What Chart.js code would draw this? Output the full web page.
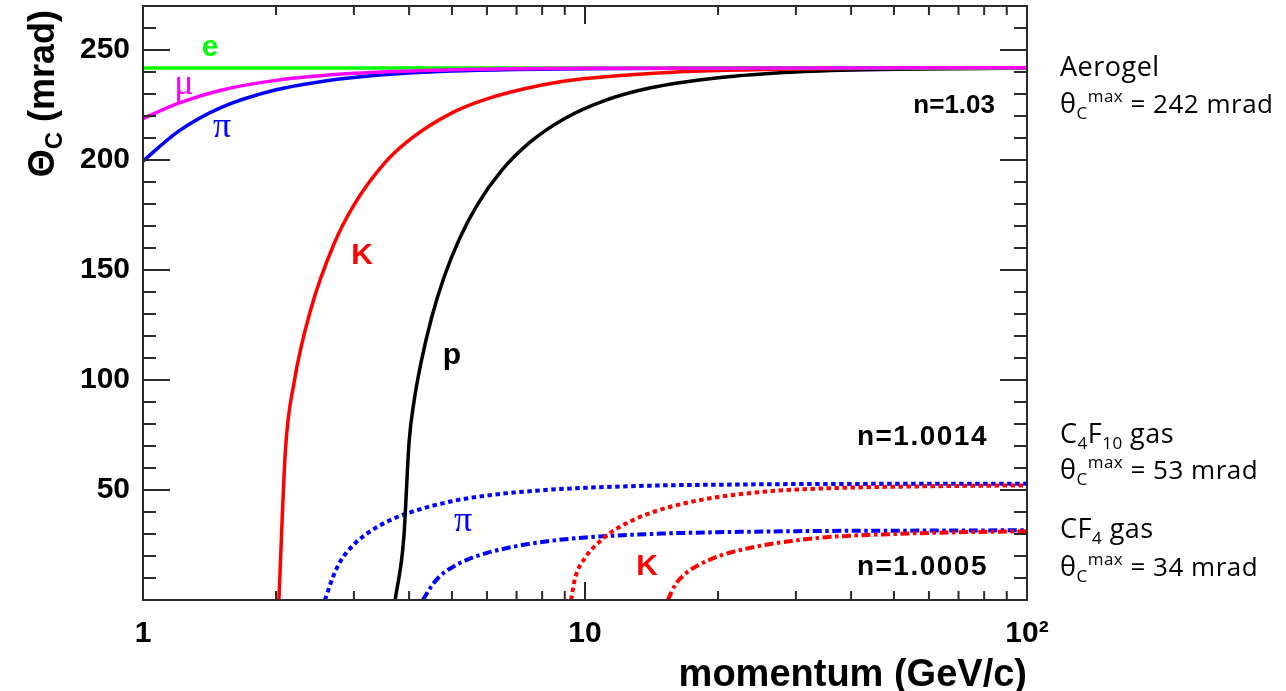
<!DOCTYPE html>
<html>
<head>
<meta charset="utf-8">
<script src="https://cdn.jsdelivr.net/npm/chart.js@4.4.0/dist/chart.umd.min.js"></script>
<style>
  html, body { margin: 0; padding: 0; background: #fff; }
</style>
</head>
<body>
<canvas id="chart" width="1286" height="691"></canvas>
<script>
// momentum p (GeV/c) and Cherenkov angle (mrad)
// aerogel, n = 1.03
const pE = [1, 100];
const thE = [241.8, 241.8];
const pMu = [1, 1.2, 1.5, 2, 3, 5, 10, 100];
const thMu = [218.8, 225.7, 231.7, 236.2, 239.4, 241.0, 241.7, 241.9];
const pPi = [1, 1.2, 1.5, 2, 2.5, 3, 4, 5, 7, 10, 20, 100];
const thPi = [199.5, 212.9, 223.8, 231.9, 235.5, 237.5, 239.5, 240.4, 241.1, 241.5, 241.8, 241.9];
const pK = [2.03, 2.1, 2.2, 2.4, 2.7, 3, 3.5, 4, 5, 6, 8, 10, 15, 20, 30, 50, 100];
const thK = [0, 68, 99.5, 132.5, 161.5, 179.5, 198, 209, 221.4, 227.8, 234.1, 237, 239.7, 240.7, 241.4, 241.7, 241.9];
const pP = [3.72, 3.89, 4.0, 4.1, 4.25, 4.5, 4.8, 5.2, 5.7, 6.5, 7.5, 9, 11, 14, 20, 30, 50, 100];
const thP = [0, 28, 72, 89.8, 107.3, 128.5, 146.8, 164.2, 179.5, 195.6, 208, 218.9, 226.8, 232.7, 237.4, 240, 241.2, 241.8];

// C4F10 gas, n = 1.0014 (dotted)
const pPiC4 = [2.58, 2.7, 2.8, 3, 3.3, 3.6, 4, 5, 6, 8, 10, 15, 20, 30, 50, 100];
const thPiC4 = [0, 11.3, 17.8, 25.2, 31.8, 36, 39.7, 44.9, 47.5, 49.9, 51, 52.1, 52.4, 52.7, 52.8, 52.9];
const pKC4 = [9.3, 9.5, 10, 11, 12, 14, 17, 20, 25, 30, 40, 60, 100];
const thKC4 = [0, 10, 19.1, 28, 33.3, 39.4, 44.2, 46.8, 49.1, 50.2, 51.1, 51.7, 52.1];

// CF4 gas, n = 1.0005 (dash-dot)
const pPiCF4 = [4.3, 4.5, 4.7, 5, 5.5, 6, 7, 8, 10, 15, 20, 30, 50, 100];
const thPiCF4 = [0, 6.5, 10.9, 14.8, 18.9, 21.4, 24.5, 26.4, 28.4, 30.2, 30.8, 31.3, 31.5, 31.7];
const pKCF4 = [15.4, 16, 17, 18, 20, 23, 27, 35, 50, 70, 100];
const thKCF4 = [0, 6.9, 12.5, 15.7, 19.8, 23.2, 25.8, 28.5, 30.0, 30.8, 31.2];

const xTicks = [1, 10, 100];
const xTickLabels = ["1", "10", "10²"];
const yTicks = [0, 50, 100, 150, 200, 250];

const DOT = [4.5, 3.5];
const DASHDOT = [9, 3.5, 3.5, 3.5];

function pts(p, th) {
  return p.map((v, i) => ({ x: v, y: th[i] }));
}

function curve(p, th, color, dash) {
  return {
    data: pts(p, th),
    borderColor: color,
    borderWidth: dash ? 4 : 3.5,
    borderDash: dash || [],
    borderCapStyle: "butt",
    showLine: true,
    pointRadius: 0,
    fill: false,
    cubicInterpolationMode: "monotone",
  };
}

// first in list is drawn on top
const datasets = [
  curve(pMu, thMu, "#ff00ff"),
  curve(pE, thE, "#00ff00"),
  curve(pPi, thPi, "#0000ff"),
  curve(pK, thK, "#ff0000"),
  curve(pP, thP, "#000000"),
  curve(pKC4, thKC4, "#ff0000", DOT),
  curve(pPiC4, thPiC4, "#0000ff", DOT),
  curve(pKCF4, thKCF4, "#ff0000", DASHDOT),
  curve(pPiCF4, thPiCF4, "#0000ff", DASHDOT),
];

// draws a text made of runs (for sub/superscripts), left to right
function runs(ctx, x, y, parts, family, weight) {
  for (const p of parts) {
    ctx.font = `${weight} ${p.s}px "${family}"`;
    ctx.fillText(p.t, x, y + (p.dy || 0));
    x += ctx.measureText(p.t).width;
  }
  return x;
}

function noPad(s) {
  s.paddingTop = 0;
  s.paddingBottom = 0;
  s.paddingLeft = 0;
  s.paddingRight = 0;
}

const decor = {
  id: "decor",
  afterDatasetsDraw(chart) {
    const { ctx, chartArea: a, scales: { x, y } } = chart;
    ctx.save();

    // frame + inside ticks, ROOT style
    ctx.strokeStyle = "#2a2a2a";
    ctx.lineWidth = 2;
    ctx.beginPath();
    for (let v = 10; v < 270; v += 10) {
      const py = y.getPixelForValue(v);
      const len = v % 50 === 0 ? 27 : 13;
      ctx.moveTo(a.left, py); ctx.lineTo(a.left + len, py);
      ctx.moveTo(a.right, py); ctx.lineTo(a.right - len, py);
    }
    for (const d of [1, 10]) {
      for (let k = 1; k <= 9; k++) {
        const v = d * k;
        if (v <= 1 || v >= 100) continue;
        const px = x.getPixelForValue(v);
        const len = k === 1 ? 18 : 9;
        ctx.moveTo(px, a.bottom); ctx.lineTo(px, a.bottom - len);
        ctx.moveTo(px, a.top); ctx.lineTo(px, a.top + len);
      }
    }
    ctx.stroke();
    ctx.strokeRect(a.left, a.top, a.right - a.left, a.bottom - a.top);

    // axis titles
    ctx.fillStyle = "#000";
    ctx.textBaseline = "alphabetic";
    ctx.textAlign = "right";
    ctx.font = 'bold 38px "Liberation Sans"';
    ctx.fillText("momentum (GeV/c)", a.right, 686);

    ctx.save();
    ctx.translate(54, 10);
    ctx.rotate(-Math.PI / 2);
    ctx.textAlign = "left";
    const yParts = [
      { t: "Θ", s: 36 },
      { t: "C", s: 24, dy: 8 },
      { t: " (mrad)", s: 36 },
    ];
    let w = 0;
    for (const p of yParts) {
      ctx.font = `bold ${p.s}px "Liberation Sans"`;
      w += ctx.measureText(p.t).width;
    }
    runs(ctx, -w, 0, yParts, "Liberation Sans", "bold");
    ctx.restore();

    // curve labels
    ctx.textAlign = "center";
    ctx.textBaseline = "middle";
    const lab = (t, px, py, color, font) => {
      ctx.fillStyle = color;
      ctx.font = font;
      ctx.fillText(t, px, py);
    };
    const B = 'bold 30px "Liberation Sans"';
    const G = '36px "Liberation Serif"';
    lab("e", 210, 48, "#00ff00", B);
    lab("μ", 184, 85, "#ff00ff", G);
    lab("π", 222, 128, "#0000ff", G);
    lab("K", 362, 256, "#ff0000", B);
    lab("p", 452, 356, "#000000", B);
    lab("π", 463, 522, "#0000ff", G);
    lab("K", 647, 567, "#ff0000", B);

    // refractive index labels
    ctx.fillStyle = "#000";
    ctx.textAlign = "right";
    ctx.textBaseline = "alphabetic";
    ctx.font = 'bold 26px "Liberation Sans"';
    ctx.fillText("n=1.03", 995, 113);
    ctx.font = 'bold 28px "Liberation Sans"';
    ctx.letterSpacing = "1.5px";
    ctx.fillText("n=1.0014", 988, 445);
    ctx.fillText("n=1.0005", 988, 575);
    ctx.letterSpacing = "0px";

    // radiator notes on the right
    ctx.textAlign = "left";
    ctx.letterSpacing = "0.5px";
    const F = "Open Sans";
    const S = 27, s = 17;
    const theta = (val) => [
      { t: "θ", s: S },
      { t: "C", s: s, dy: 6 },
      { t: "max", s: s, dy: -11 },
      { t: " = " + val + " mrad", s: S - 1 },
    ];
    runs(ctx, 1060, 76, [{ t: "Aerogel", s: S }], F, "normal");
    runs(ctx, 1060, 113, theta(242), F, "normal");
    runs(ctx, 1060, 443, [
      { t: "C", s: S }, { t: "4", s: s, dy: 6 },
      { t: "F", s: S }, { t: "10", s: s, dy: 6 },
      { t: " gas", s: S },
    ], F, "normal");
    runs(ctx, 1060, 479, theta(53), F, "normal");
    runs(ctx, 1060, 538, [
      { t: "CF", s: S }, { t: "4", s: s, dy: 6 },
      { t: " gas", s: S },
    ], F, "normal");
    runs(ctx, 1060, 576, theta(34), F, "normal");
    ctx.letterSpacing = "0px";

    ctx.restore();
  },
};

const tickFont = { family: "Liberation Sans", weight: "bold", size: 30 };

new Chart(document.getElementById("chart"), {
  type: "scatter",
  data: { datasets },
  options: {
    responsive: false,
    animation: false,
    events: [],
    layout: { padding: { left: 0, right: 259, top: 6, bottom: 0 } },
    plugins: { legend: { display: false }, tooltip: { enabled: false } },
    scales: {
      x: {
        type: "logarithmic",
        min: 1,
        max: 100,
        grid: { display: false, drawTicks: false },
        border: { display: false },
        afterBuildTicks: (s) => { s.ticks = xTicks.map((v) => ({ value: v })); },
        afterFit: (s) => { s.height = 91; noPad(s); },
        ticks: {
          font: tickFont,
          color: "#000",
          padding: 16,
          maxRotation: 0,
          autoSkip: false,
          callback: (v, i) => xTickLabels[i],
        },
      },
      y: {
        min: 0,
        max: 270,
        grid: { display: false, drawTicks: false },
        border: { display: false },
        afterBuildTicks: (s) => { s.ticks = yTicks.map((v) => ({ value: v })); },
        afterFit: (s) => { s.width = 143; noPad(s); },
        ticks: {
          font: tickFont,
          color: "#000",
          padding: 13,
          callback: (v) => (v === 0 ? "" : String(v)),
        },
      },
    },
  },
  plugins: [decor],
});
</script>
</body>
</html>
